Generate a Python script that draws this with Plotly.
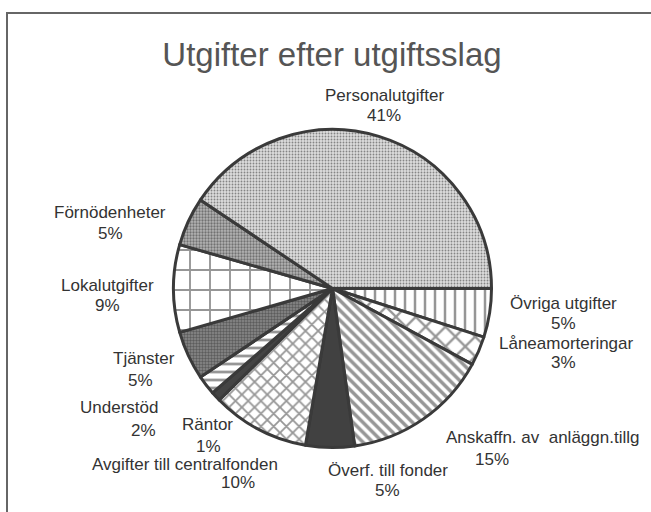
import plotly.graph_objects as go

W, H = 651, 512

# data
labels = ["Personalutgifter", "Förnödenheter", "Lokalutgifter", "Tjänster", "Understöd", "Räntor",
          "Avgifter till centralfonden", "Överf. till fonder", "Anskaffn. av  anläggn.tillg",
          "Låneamorteringar", "Övriga utgifter"]
values = [41, 5, 9, 5, 2, 1, 10, 5, 15, 3, 5]
pct_text = ["41%", "5%", "9%", "5%", "2%", "1%", "10%", "5%", "15%", "3%", "5%"]

# hatching per slice (shape, tile size, slice colour)
shapes = [".", ".", "+", ".", "-", "", "x", "", "\\", "x", "|"]
sizes = [3, 3, 20, 3, 8, 8, 9, 8, 7, 14, 10]
solid = [0.3, 0.45, 0.18, 0.5, 0.35, 0.3, 0.36, 0.3, 0.5, 0.3, 0.25]
cols = ["#dcdcdc", "#b4b4b4", "white", "#8a8a8a", "white", "#444444", "white", "#414141",
        "white", "white", "white"]

# label positions in pixels (name centre, percent centre)
name_pos = [(384, 95), (110, 212), (107, 285), (144, 358), (119, 407), (207, 424),
            (185, 464), (388, 470), (542, 437), (566, 343), (563, 303)]
pct_pos = [(384, 115), (110, 233), (107, 305), (140, 380), (143, 430), (208, 446),
           (238, 482), (387, 490), (492, 459), (563, 362), (563, 323)]

cx, cy, r = 332.5, 288.5, 159

fig = go.Figure()
# clockwise from 3 o'clock, so pass the slices in reverse order
fig.add_trace(go.Pie(
    labels=labels[::-1], values=values[::-1], sort=False,
    direction="clockwise", rotation=90,
    textinfo="none", hoverinfo="label+percent", showlegend=False,
    domain=dict(x=[(cx - r) / W, (cx + r) / W], y=[(H - cy - r) / H, (H - cy + r) / H]),
    marker=dict(colors=cols[::-1],
                line=dict(color="#3a3a3a", width=3),
                pattern=dict(shape=shapes[::-1], size=sizes[::-1], solidity=solid[::-1],
                             fgcolor="#2e2e2e", fillmode="overlay")),
))

font = dict(family="Liberation Sans, Arial, sans-serif", size=17, color="#333333")
for name, pct, (nx, ny), (px, py) in zip(labels, pct_text, name_pos, pct_pos):
    fig.add_annotation(x=nx / W, y=1 - ny / H, xref="paper", yref="paper", text=name,
                       showarrow=False, font=font, xanchor="center", yanchor="middle")
    fig.add_annotation(x=px / W, y=1 - py / H, xref="paper", yref="paper", text=pct,
                       showarrow=False, font=font, xanchor="center", yanchor="middle")

# frame round the chart
fig.add_shape(type="rect", xref="paper", yref="paper", x0=7 / W, x1=1.05, y0=-0.05, y1=1 - 13 / H,
              line=dict(color="#666666", width=2))

fig.update_layout(
    width=W, height=H,
    margin=dict(l=0, r=0, t=0, b=0),
    paper_bgcolor="white", plot_bgcolor="white",
    title=dict(text="Utgifter efter utgiftsslag", x=332 / W, xanchor="center",
               y=1 - 54 / H, yanchor="middle",
               font=dict(family="Liberation Sans, Arial, sans-serif", size=33, color="#555555")),
)

# drop the page's default body margin so the figure sits at the window corner
fig.write_html("out.html", config={"displayModeBar": False},
               post_script="document.body.style.margin='0';")
